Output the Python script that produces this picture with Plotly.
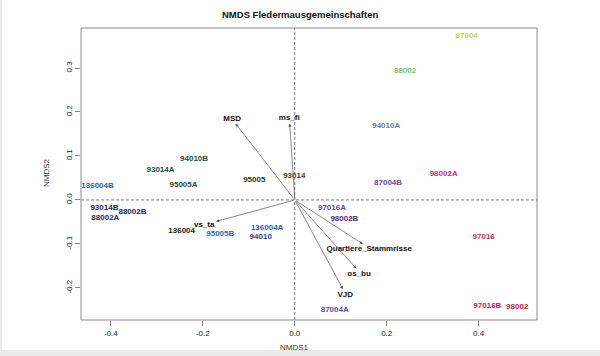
import plotly.graph_objects as go

# Site scores (labels drawn as text)
sites = ["136004B", "93014A", "94010B", "95005A", "95005", "93014",
         "93014B", "88002B", "88002A", "136004", "95005B", "136004A", "94010",
         "87004", "88002", "94010A", "98002A", "87004B",
         "97016A", "98002B", "97016", "87004A", "97016B", "98002"]
site_x = [-0.429, -0.292, -0.219, -0.242, -0.088, -0.001,
          -0.414, -0.353, -0.412, -0.246, -0.162, -0.060, -0.074,
          0.374, 0.240, 0.199, 0.324, 0.203,
          0.081, 0.108, 0.411, 0.087, 0.419, 0.484]
site_y = [0.032, 0.068, 0.092, 0.033, 0.045, 0.055,
          -0.019, -0.027, -0.040, -0.070, -0.078, -0.064, -0.085,
          0.373, 0.294, 0.168, 0.059, 0.038,
          -0.019, -0.044, -0.084, -0.250, -0.241, -0.243]
site_colors = ["#2f62b0", "#1f4f4c", "#1f4f4c", "#1f4f4c", "#2e3a22", "#4a4818",
               "#1d2b55", "#1d2b55", "#1d2b55", "#1a1a1a", "#3b63b5", "#3c5aa8", "#363e8c",
               "#bcd84c", "#80c858", "#7478a8", "#c2387c", "#6a4aa8",
               "#5c4aa2", "#5a2c6c", "#d02c62", "#5a4ab2", "#d0205c", "#d0203c"]

# Environmental fit vectors
vectors = ["MSD", "ms_fi", "vs_ta", "Quartiere_Stammrisse", "os_bu", "VJD"]
vec_x = [-0.129, -0.011, -0.171, 0.148, 0.134, 0.105]
vec_y = [0.174, 0.174, -0.049, -0.100, -0.156, -0.203]
vec_label_x = [-0.136, -0.012, -0.197, 0.162, 0.140, 0.110]
vec_label_y = [0.184, 0.186, -0.058, -0.112, -0.168, -0.216]

x_ticks = [-0.4, -0.2, 0.0, 0.2, 0.4]
y_ticks = [-0.2, -0.1, 0.0, 0.1, 0.2, 0.3]

W, H = 600, 356
L, R, T, B = 81, 63, 28, 36
pw, ph = W - L - R, H - T - B

def px(xp):
    return (xp - L) / pw

def py(yp):
    return (H - B - yp) / ph

fig = go.Figure()

fig.add_trace(go.Scatter(
    x=site_x, y=site_y, mode="text", text=sites,
    textfont=dict(family="Liberation Sans, Arial", size=8, color=site_colors, weight="bold"),
    textposition="middle center", hoverinfo="text", showlegend=False))

fig.add_trace(go.Scatter(
    x=vec_label_x, y=vec_label_y, mode="text", text=vectors,
    textfont=dict(family="Liberation Sans, Arial", size=8, color="#111111", weight="bold"),
    textposition="middle center", hoverinfo="text", showlegend=False))

annotations = []
for vx, vy in zip(vec_x, vec_y):
    annotations.append(dict(
        x=vx, y=vy, ax=0, ay=0, xref="x", yref="y", axref="x", ayref="y",
        showarrow=True, arrowhead=2, arrowsize=0.9, arrowwidth=0.7,
        arrowcolor="#555555", text=""))

annotations += [
    dict(text="<b>NMDS Fledermausgemeinschaften</b>", xref="paper", yref="paper",
         x=px(300), y=py(14), xanchor="center", yanchor="middle", showarrow=False,
         font=dict(family="Liberation Sans, Arial", size=9.5, color="#111111")),
    dict(text="NMDS1", xref="paper", yref="paper", x=px(294), y=py(347),
         xanchor="center", yanchor="middle", showarrow=False,
         font=dict(family="Liberation Sans, Arial", size=8, color="#333333")),
    dict(text="NMDS2", xref="paper", yref="paper", x=px(46), y=py(173),
         xanchor="center", yanchor="middle", showarrow=False, textangle=-90,
         font=dict(family="Liberation Sans, Arial", size=8, color="#333333")),
]

shapes = [
    dict(type="line", xref="x", yref="paper", x0=0, x1=0, y0=0, y1=1,
         line=dict(color="#555555", width=0.8, dash="3px,2px")),
    dict(type="line", xref="paper", yref="y", x0=0, x1=1, y0=0, y1=0,
         line=dict(color="#555555", width=0.8, dash="3px,2px")),
    dict(type="rect", xref="paper", yref="paper", x0=0, x1=1, y0=0, y1=1,
         line=dict(color="#8a8a8a", width=1)),
    dict(type="rect", xref="paper", yref="paper", x0=px(0), x1=px(600), y0=py(356), y1=py(350),
         fillcolor="#ebebeb", line=dict(width=0), layer="below"),
    dict(type="rect", xref="paper", yref="paper", x0=px(0), x1=px(2), y0=py(356), y1=py(0),
         fillcolor="#ebebeb", line=dict(width=0), layer="below"),
]

fig.update_layout(
    width=W, height=H, margin=dict(l=L, r=R, t=T, b=B),
    paper_bgcolor="white", plot_bgcolor="white",
    annotations=annotations, shapes=shapes, showlegend=False,
    font=dict(family="Liberation Sans, Arial", size=8, color="#222222"),
)
fig.update_xaxes(range=[-0.465, 0.527], tickvals=x_ticks,
                 ticktext=[f"{v:.1f}" for v in x_ticks],
                 showgrid=False, zeroline=False, showline=False,
                 ticks="outside", ticklen=5, tickcolor="#888888",
                 tickfont=dict(size=8, color="#222222"))
fig.update_yaxes(range=[-0.273, 0.391], tickvals=y_ticks,
                 ticktext=[f"{v:.1f}" for v in y_ticks],
                 showgrid=False, zeroline=False, showline=False,
                 ticks="outside", ticklen=5, tickcolor="#888888", tickangle=-90,
                 tickfont=dict(size=8, color="#222222"))

fig.write_html("out.html", config={"displayModeBar": False},
               post_script="document.body.style.margin='0';document.body.style.overflow='hidden';")
